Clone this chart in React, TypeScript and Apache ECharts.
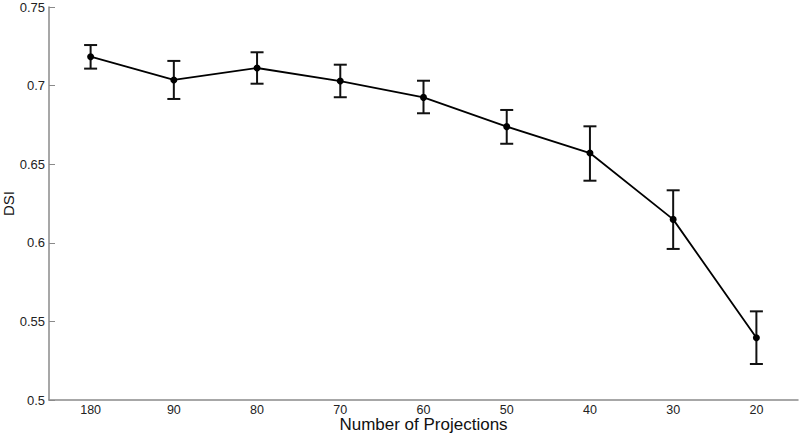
import React, { useEffect, useRef } from "react";
import * as echarts from "echarts";

const categories = ["180", "90", "80", "70", "60", "50", "40", "30", "20"];
const dsiMean = [0.7184, 0.7036, 0.7112, 0.7029, 0.6925, 0.6739, 0.6571, 0.6149, 0.5396];
const dsiLow = [0.7108, 0.6915, 0.7012, 0.6926, 0.6824, 0.663, 0.6395, 0.5961, 0.5229];
const dsiHigh = [0.7258, 0.7157, 0.7212, 0.7133, 0.7031, 0.6845, 0.6741, 0.6334, 0.5564];

export default function App() {
  const ref = useRef<HTMLDivElement>(null);
  useEffect(() => {
    if (!ref.current) return;
    const chart = echarts.init(ref.current, null, { renderer: "svg" });
    const errData = categories.map((_, i) => [i, dsiLow[i], dsiHigh[i]]);
    chart.setOption({
      animation: false,
      backgroundColor: "#ffffff",
      grid: { left: 49, right: 2, top: 7, bottom: 36, containLabel: false, outerBoundsMode: "none" },
      xAxis: {
        type: "category",
        data: categories,
        boundaryGap: true,
        name: "Number of Projections",
        nameLocation: "middle",
        nameGap: 16,
        nameMoveOverlap: false,
        nameTextStyle: { fontFamily: "Liberation Sans, Arial, sans-serif", fontSize: 17, color: "#111" },
        axisLine: { lineStyle: { color: "#8a8a8a", width: 1.5 } },
        axisTick: { alignWithLabel: true, inside: true, length: 7, lineStyle: { color: "#8a8a8a", width: 1 } },
        axisLabel: { fontFamily: "Liberation Sans, Arial, sans-serif", fontSize: 12.5, color: "#222", margin: 3 },
        splitLine: { show: false },
      },
      yAxis: {
        type: "value",
        min: 0.5,
        max: 0.75,
        interval: 0.05,
        name: "DSI",
        nameLocation: "middle",
        nameGap: 33,
        nameRotate: 90,
        nameMoveOverlap: false,
        nameTextStyle: { fontFamily: "Liberation Sans, Arial, sans-serif", fontSize: 15, color: "#111" },
        axisLine: { show: true, lineStyle: { color: "#8a8a8a", width: 1.5 } },
        axisTick: { show: true, inside: true, length: 6, lineStyle: { color: "#8a8a8a", width: 1 } },
        axisLabel: {
          fontFamily: "Liberation Sans, Arial, sans-serif",
          fontSize: 13,
          color: "#222",
          margin: 4,
          formatter: (v: number) => String(parseFloat(v.toFixed(2))),
        },
        splitLine: { show: false },
      },
      series: [
        {
          type: "custom",
          data: errData,
          z: 3,
          renderItem: (params: any, api: any) => {
            const i = api.value(0);
            const lo = api.coord([i, api.value(1)]);
            const hi = api.coord([i, api.value(2)]);
            const hw = 6.5;
            const style = { stroke: "#111", lineWidth: 2 };
            return {
              type: "group",
              children: [
                { type: "line", shape: { x1: lo[0], y1: lo[1], x2: hi[0], y2: hi[1] }, style },
                { type: "line", shape: { x1: lo[0] - hw, y1: lo[1], x2: lo[0] + hw, y2: lo[1] }, style },
                { type: "line", shape: { x1: hi[0] - hw, y1: hi[1], x2: hi[0] + hw, y2: hi[1] }, style },
              ],
            };
          },
        },
        {
          type: "line",
          data: dsiMean,
          z: 4,
          symbol: "circle",
          symbolSize: 7,
          itemStyle: { color: "#000" },
          lineStyle: { color: "#000", width: 1.8 },
        },
      ],
    });
    return () => chart.dispose();
  }, []);
  return <div ref={ref} style={{ width: 800, height: 436, position: "absolute", left: 0, top: 0 }} />;
}
